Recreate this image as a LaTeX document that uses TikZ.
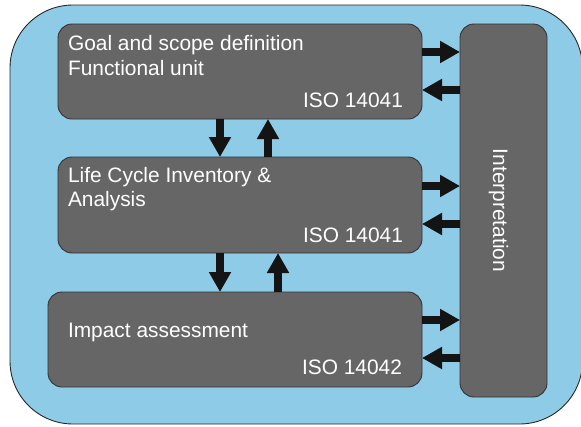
\documentclass[tikz,border=0pt]{standalone}
\usepackage{fontspec}
\setmainfont{Liberation Sans}
\usetikzlibrary{arrows.meta,calc}
\definecolor{skyb}{RGB}{142,203,231}
\definecolor{boxgray}{RGB}{102,102,102}
\definecolor{arrowblk}{RGB}{20,20,20}
\begin{document}
\begin{tikzpicture}[x=1pt,y=-1pt,
  frame/.style={draw=black!85, line width=0.9pt, fill=skyb, rounded corners=63pt, inner sep=0pt, outer sep=0pt},
  graybox/.style={draw=black!80, line width=0.9pt, fill=boxgray, rounded corners=14pt, inner sep=0pt, outer sep=0pt},
  txt/.style={text=white, inner sep=0pt, outer sep=0pt, font=\fontsize{20.9}{24}\selectfont},
  arr/.style={line width=8pt, draw=arrowblk, -{Triangle[length=20pt,width=21pt]}}]
\useasboundingbox (0,0) rectangle (581,426);
\clip (0,0) rectangle (581,426);
\node[frame, minimum width=572.5pt, minimum height=419pt] (frame) at (296.25,214.5) {};
\node[graybox, minimum width=364pt, minimum height=95pt] (b1) at (240,71.5) {};
\node[graybox, minimum width=364pt, minimum height=96pt] (b2) at (240,205) {};
\node[graybox, minimum width=374pt, minimum height=95pt] (b3) at (235,339.5) {};
\node[graybox, minimum width=87pt, minimum height=373pt] (ip) at (503.5,210.5) {};
% texts
\node[txt, anchor=base west] (t1a) at (68,50) {Goal and scope definition};
\node[txt, anchor=base west] (t1b) at (68,75) {Functional unit};
\node[txt, anchor=base east] (t1c) at (403,107) {ISO 14041};
\node[txt, anchor=base west] (t2a) at (68,182) {Life Cycle Inventory \&};
\node[txt, anchor=base west] (t2b) at (68,206) {Analysis};
\node[txt, anchor=base east] (t2c) at (403,242) {ISO 14041};
\node[txt, anchor=base west] (t3a) at (68,337) {Impact assessment};
\node[txt, anchor=base east] (t3c) at (402,374) {ISO 14042};
\node[txt, anchor=base, rotate=-90] (tip) at (493,210.5) {Interpretation};
% vertical arrows
\coordinate (v1) at ($(b1.south west)+(162,0)$);
\coordinate (v2) at ($(b1.south west)+(210,0)$);
\coordinate (v3) at ($(b2.south west)+(162,0)$);
\coordinate (v4) at ($(b2.south west)+(220,0)$);
\draw[arr] (v1) -- (v1 |- b2.north);
\draw[arr] (v2 |- b2.north) -- (v2);
\draw[arr] (v3) -- (v3 |- b3.north);
\draw[arr] (v4 |- b3.north) -- (v4);
% horizontal arrows
\coordinate (h1) at ($(b1.north east)+(0,28)$);
\coordinate (h2) at ($(b1.north east)+(0,66)$);
\coordinate (h3) at ($(b2.north east)+(0,29)$);
\coordinate (h4) at ($(b2.north east)+(0,67)$);
\coordinate (h5) at ($(b3.north east)+(0,28)$);
\coordinate (h6) at ($(b3.north east)+(0,66)$);
\draw[arr] (h1) -- (h1 -| ip.west);
\draw[arr] (h2 -| ip.west) -- (h2);
\draw[arr] (h3) -- (h3 -| ip.west);
\draw[arr] (h4 -| ip.west) -- (h4);
\draw[arr] (h5) -- (h5 -| ip.west);
\draw[arr] (h6 -| ip.west) -- (h6);
\end{tikzpicture}
\end{document}
